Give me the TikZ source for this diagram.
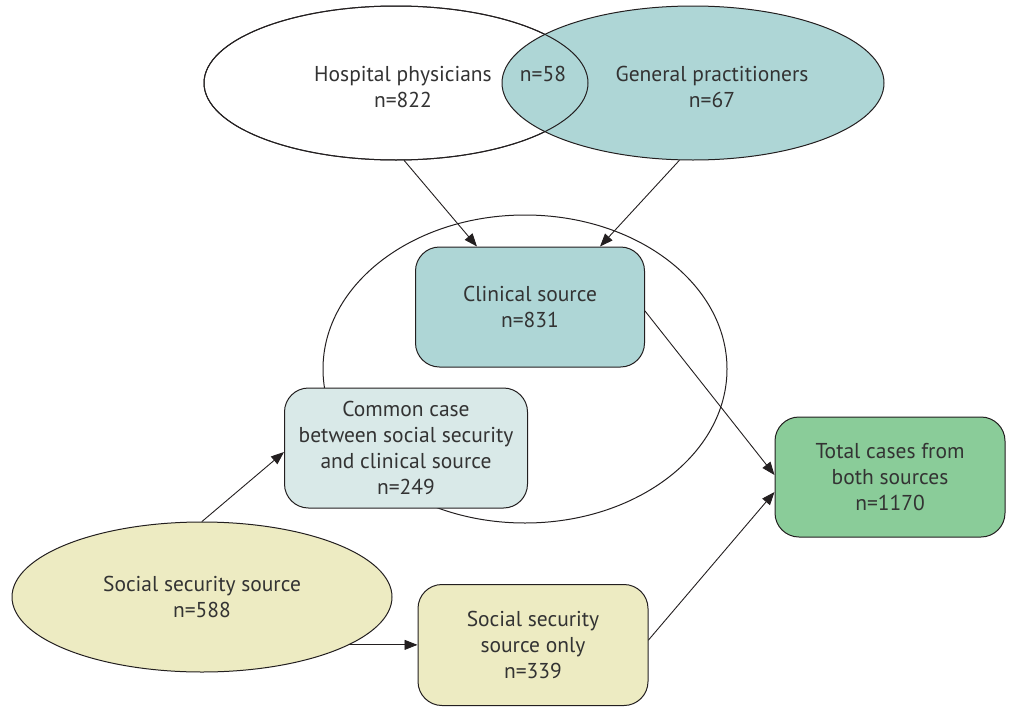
\documentclass[tikz,border=0pt]{standalone}
\usepackage{fontspec}
\setmainfont{PT Sans}
\usepackage{tikz}
\usetikzlibrary{arrows.meta}
\usetikzlibrary{shapes.geometric}
\definecolor{linegray}{HTML}{231F20}
\definecolor{txtgray}{HTML}{333333}
\definecolor{tealfill}{HTML}{AED6D6}
\definecolor{palefill}{HTML}{D9E9E8}
\definecolor{greenfill}{HTML}{8ACC99}
\definecolor{yellowfill}{HTML}{EDEBC2}

\begin{document}
\begin{tikzpicture}[line cap=round,line join=round,x=1pt,y=-1pt,
  >={Triangle[length=13pt,width=10pt]},
  every node/.style={text=txtgray,font=\fontsize{21.5}{26}\selectfont,align=center},
  oval/.style={draw=linegray,line width=1pt,ellipse,inner sep=0pt},
  box/.style={draw=linegray,line width=1pt,rounded corners=24pt,minimum width=229pt,minimum height=120pt,inner sep=0pt},
  link/.style={->,draw=linegray,line width=0.9pt}]
\useasboundingbox (0,0) rectangle (1012,707);
% clinical ring
\node [oval,minimum width=404pt,minimum height=308pt] (ring) at (525,369) {};
% two physician groups
\node [oval,fill=white,minimum width=384pt,minimum height=154pt] (hosp) at (396,83) {};
\node [oval,fill=tealfill,minimum width=382pt,minimum height=154pt] (gp) at (693,83) {};
\node [oval,minimum width=384pt,minimum height=154pt] at (396,83) {};
\node (hosptxt) at (403,87) {Hospital physicians\\n=822};
\node (bothtxt) at (543,74) {n=58};
\node (gptxt) at (712,87) {General practitioners\\n=67};
% boxes
\node [box,fill=tealfill] (clin) at (530,307) {Clinical source\\n=831};
\node [box,fill=palefill,minimum width=243pt] (common) at (406,448) {Common case\\between social security\\and clinical source\\n=249};
\node [box,fill=greenfill,minimum width=230pt] (total) at (890,477) {Total cases from\\both sources\\n=1170};
\node [oval,fill=yellowfill,minimum width=380pt,minimum height=150pt] (ss) at (202,597) {Social security source\\n=588};
\node [box,fill=yellowfill,minimum width=230pt,minimum height=121pt] (ssonly) at (533,645) {Social security\\source only\\n=339};
% arrows
\draw [link] (hosp.-84) -- ([xshift=-53pt]clin.north);
\draw [link] (gp.-100) -- ([xshift=70pt]clin.north);
\draw [link] ([yshift=-4pt]clin.east) -- ([yshift=2pt]total.west);
\draw [link] (ss.north) -- ([yshift=-4pt]common.west);
\draw [link] (ss.-18.2) -- (ss.-18.2 -| ssonly.west);
\draw [link] ([yshift=5pt]ssonly.east) -- ([yshift=-15pt]total.west);
\end{tikzpicture}
\end{document}
